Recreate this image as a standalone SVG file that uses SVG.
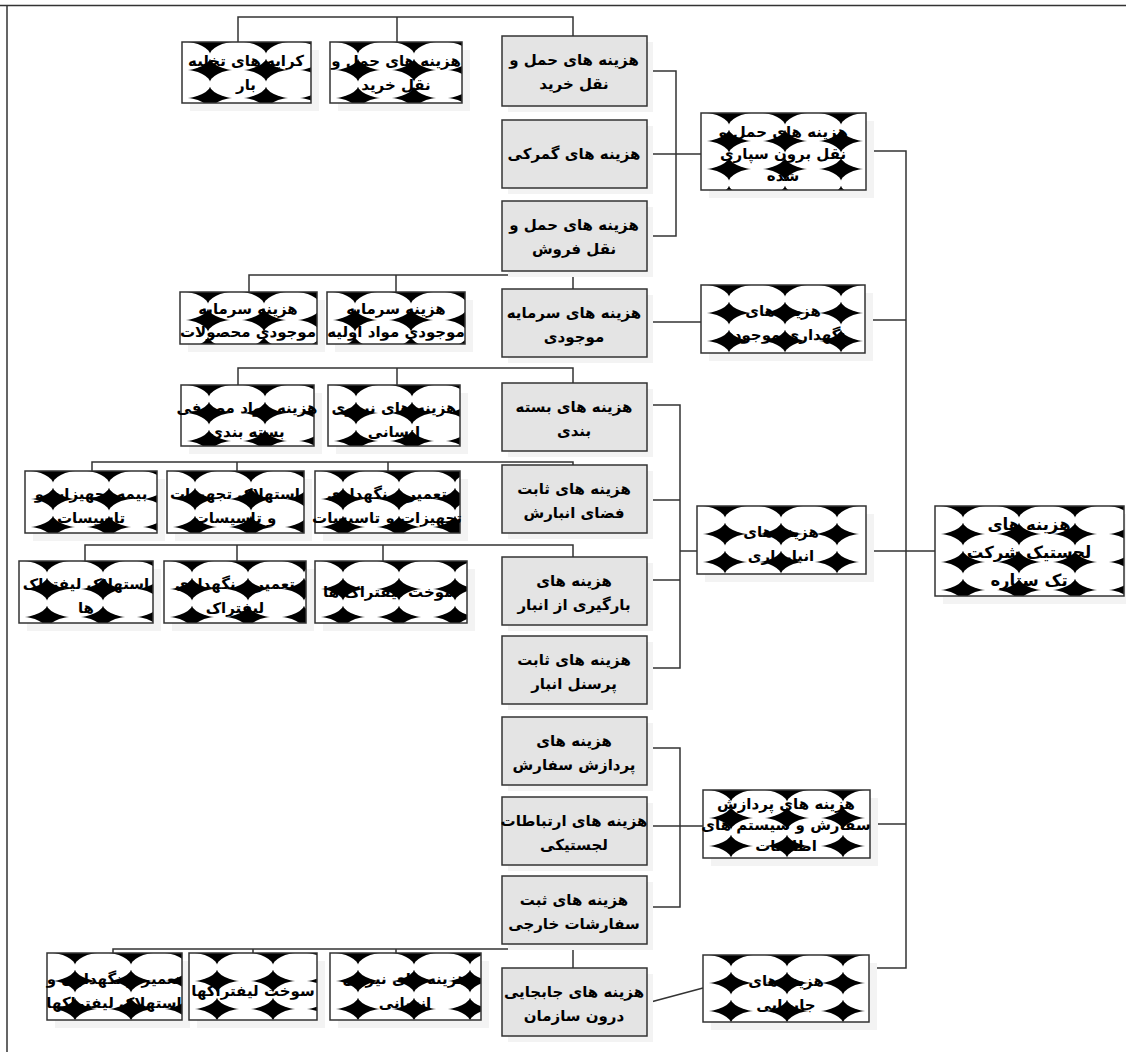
<svg xmlns="http://www.w3.org/2000/svg" width="1126" height="1052" viewBox="0 0 1126 1052">
<defs>
<pattern id="sph" patternUnits="userSpaceOnUse" x="28" y="0" width="56" height="28">
<rect width="56" height="28" fill="#000"/>
<ellipse cx="28" cy="14" rx="28.5" ry="14.3" fill="#fff"/>
</pattern>
<style>
.g{fill:#e4e4e4;stroke:#333;stroke-width:1.5}
.p{fill:url(#sph);stroke:#333;stroke-width:1.5}
.sh{fill:#f3f3f3}
.c{fill:none;stroke:#333;stroke-width:1.5}
text{font-family:"DejaVu Sans",sans-serif;font-weight:bold;font-size:15px;fill:#000;text-anchor:middle;direction:rtl}
.big{font-size:16.5px}
</style>
</defs>
<rect width="1126" height="1052" fill="#fff"/>
<g id="frame" class="c"><path d="M0 5.5H1126M7 5V1052"/></g>
<g id="connectors" class="c">
<path d="M238 42V17H573V36M397 17V42"/>
<path d="M647 71H676V236H647M647 154H701"/>
<path d="M866 151H906V968H869M865 320H906M866 551H935M870 824H906"/>
<path d="M249 292V275H573V289M396 275V292"/>
<path d="M647 322H701"/>
<path d="M238 385V368H573V383M397 368V385"/>
<path d="M647 405H680V668H647M647 500H680M647 580H680M680 551H697"/>
<path d="M92 471V462H573V465M237 462V471M388 462V471"/>
<path d="M85 561V545H573V557M237 545V561M383 545V561"/>
<path d="M647 748H680V907H647M647 826H703"/>
<path d="M113 953V949H573V968M253 949V953M396 949V953"/>
<path d="M647 1003L703 988"/>
</g>
<!-- gray boxes -->
<g id="g1"><rect class="sh" x="508" y="42" width="145" height="70"/><rect class="g" x="502" y="36" width="145" height="70"/><text x="574" y="65">هزینه های حمل و</text><text x="574" y="89">نقل خرید</text></g>
<g id="g2"><rect class="sh" x="508" y="126" width="145" height="68"/><rect class="g" x="502" y="120" width="145" height="68"/><text x="574" y="159">هزینه های گمرکی</text></g>
<g id="g3"><rect class="sh" x="508" y="207" width="145" height="70"/><rect class="g" x="502" y="201" width="145" height="70"/><text x="574" y="230">هزینه های حمل و</text><text x="574" y="254">نقل فروش</text></g>
<g id="g4"><rect class="sh" x="508" y="295" width="145" height="68"/><rect class="g" x="502" y="289" width="145" height="68"/><text x="574" y="318">هزینه های سرمایه</text><text x="574" y="342">موجودی</text></g>
<g id="g5"><rect class="sh" x="508" y="389" width="145" height="68"/><rect class="g" x="502" y="383" width="145" height="68"/><text x="574" y="412">هزینه های بسته</text><text x="574" y="436">بندی</text></g>
<g id="g6"><rect class="sh" x="508" y="471" width="145" height="68"/><rect class="g" x="502" y="465" width="145" height="68"/><text x="574" y="494">هزینه های ثابت</text><text x="574" y="518">فضای انبارش</text></g>
<g id="g7"><rect class="sh" x="508" y="563" width="145" height="68"/><rect class="g" x="502" y="557" width="145" height="68"/><text x="574" y="586">هزینه های</text><text x="574" y="610">بارگیری از انبار</text></g>
<g id="g8"><rect class="sh" x="508" y="642" width="145" height="68"/><rect class="g" x="502" y="636" width="145" height="68"/><text x="574" y="665">هزینه های ثابت</text><text x="574" y="689">پرسنل  انبار</text></g>
<g id="g9"><rect class="sh" x="508" y="723" width="145" height="68"/><rect class="g" x="502" y="717" width="145" height="68"/><text x="574" y="746">هزینه های</text><text x="574" y="770">پردازش سفارش</text></g>
<g id="g10"><rect class="sh" x="508" y="803" width="145" height="68"/><rect class="g" x="502" y="797" width="145" height="68"/><text x="574" y="826">هزینه های ارتباطات</text><text x="574" y="850">لجستیکی</text></g>
<g id="g11"><rect class="sh" x="508" y="882" width="145" height="68"/><rect class="g" x="502" y="876" width="145" height="68"/><text x="574" y="905">هزینه های ثبت</text><text x="574" y="929">سفارشات خارجی</text></g>
<g id="g12"><rect class="sh" x="508" y="974" width="145" height="68"/><rect class="g" x="502" y="968" width="145" height="68"/><text x="574" y="997">هزینه های جابجایی</text><text x="574" y="1021">درون سازمان</text></g>
<!-- level 1 -->
<g id="a" transform="translate(701,113)"><rect class="sh" x="8" y="8" width="165" height="77"/><rect class="p" width="165" height="77"/><text x="82" y="24">هزینه های حمل و</text><text x="82" y="46">نقل برون سپاری</text><text x="82" y="68">شده</text></g>
<g id="b" transform="translate(701,285)"><rect class="sh" x="8" y="8" width="164" height="68"/><rect class="p" width="164" height="68"/><text x="82" y="31">هزینه های</text><text x="82" y="55">نگهداری موجودی</text></g>
<g id="c" transform="translate(697,506)"><rect class="sh" x="8" y="8" width="169" height="68"/><rect class="p" width="169" height="68"/><text x="84" y="31">هزینه های</text><text x="84" y="55">انبارداری</text></g>
<g id="d" transform="translate(703,790)"><rect class="sh" x="8" y="8" width="167" height="68"/><rect class="p" width="167" height="68"/><text x="83" y="19">هزینه های پردازش</text><text x="83" y="40">سفارش و سیستم های</text><text x="83" y="61">اطلاعات</text></g>
<g id="e" transform="translate(703,955)"><rect class="sh" x="8" y="8" width="166" height="67"/><rect class="p" width="166" height="67"/><text x="83" y="31">هزینه های</text><text x="83" y="55">جابجایی</text></g>
<g id="root" transform="translate(935,506)"><rect class="sh" x="8" y="8" width="183" height="90"/><rect class="p" width="189" height="90"/><text class="big" x="94" y="24">هزینه های</text><text class="big" x="94" y="52">لجستیک شرکت</text><text class="big" x="94" y="80">تک ستاره</text></g>
<!-- leaves -->
<g id="l1" transform="translate(182,42)"><rect class="sh" x="8" y="8" width="129" height="61"/><rect class="p" width="129" height="61"/><text x="64" y="24">کرایه های تخلیه</text><text x="64" y="48">بار</text></g>
<g id="l2" transform="translate(330,42)"><rect class="sh" x="8" y="8" width="132" height="61"/><rect class="p" width="132" height="61"/><text x="66" y="24">هزینه های حمل و</text><text x="66" y="48">نقل خرید</text></g>
<g id="l3" transform="translate(180,292)"><rect class="sh" x="8" y="8" width="137" height="52"/><rect class="p" width="137" height="52"/><text x="68" y="22">هزینه سرمایه</text><text x="68" y="45">موجودی محصولات</text></g>
<g id="l4" transform="translate(327,292)"><rect class="sh" x="8" y="8" width="138" height="52"/><rect class="p" width="138" height="52"/><text x="69" y="22">هزینه سرمایه</text><text x="69" y="45">موجودی مواد اولیه</text></g>
<g id="l5" transform="translate(181,385)"><rect class="sh" x="8" y="8" width="133" height="61"/><rect class="p" width="133" height="61"/><text x="66" y="28">هزینه مواد مصرفی</text><text x="66" y="52">بسته بندی</text></g>
<g id="l6" transform="translate(328,385)"><rect class="sh" x="8" y="8" width="132" height="61"/><rect class="p" width="132" height="61"/><text x="66" y="28">هزینه های نیروی</text><text x="66" y="52">انسانی</text></g>
<g id="l7" transform="translate(25,471)"><rect class="sh" x="8" y="8" width="132" height="62"/><rect class="p" width="132" height="62"/><text x="66" y="28">بیمه تجهیزات و</text><text x="66" y="52">تاسیسات</text></g>
<g id="l8" transform="translate(167,471)"><rect class="sh" x="8" y="8" width="137" height="62"/><rect class="p" width="137" height="62"/><text x="68" y="28">استهلاک تجهیزات</text><text x="68" y="52">و تاسیسات</text></g>
<g id="l9" transform="translate(315,471)"><rect class="sh" x="8" y="8" width="145" height="62"/><rect class="p" width="145" height="62"/><text x="72" y="28">تعمیر و نگهداری</text><text x="72" y="52">تجهیزات و تاسیسات</text></g>
<g id="l10" transform="translate(19,561)"><rect class="sh" x="8" y="8" width="134" height="62"/><rect class="p" width="134" height="62"/><text x="67" y="28">استهلاک لیفتراک</text><text x="67" y="52">ها</text></g>
<g id="l11" transform="translate(164,561)"><rect class="sh" x="8" y="8" width="142" height="62"/><rect class="p" width="142" height="62"/><text x="71" y="28">تعمیر و نگهداری</text><text x="71" y="52">لیفتراک</text></g>
<g id="l12" transform="translate(315,561)"><rect class="sh" x="8" y="8" width="152" height="62"/><rect class="p" width="152" height="62"/><text x="76" y="36">سوخت لیفتراک ها</text></g>
<g id="l13" transform="translate(47,953)"><rect class="sh" x="8" y="8" width="135" height="67"/><rect class="p" width="135" height="67"/><text x="67" y="31">تعمیر و نگهداری و</text><text x="67" y="55">استهلاک لیفتراکها</text></g>
<g id="l14" transform="translate(189,953)"><rect class="sh" x="8" y="8" width="128" height="67"/><rect class="p" width="128" height="67"/><text x="64" y="43">سوخت لیفتراکها</text></g>
<g id="l15" transform="translate(330,953)"><rect class="sh" x="8" y="8" width="151" height="67"/><rect class="p" width="151" height="67"/><text x="75" y="31">هزینه های نیروی</text><text x="75" y="55">انسانی</text></g>
</svg>
